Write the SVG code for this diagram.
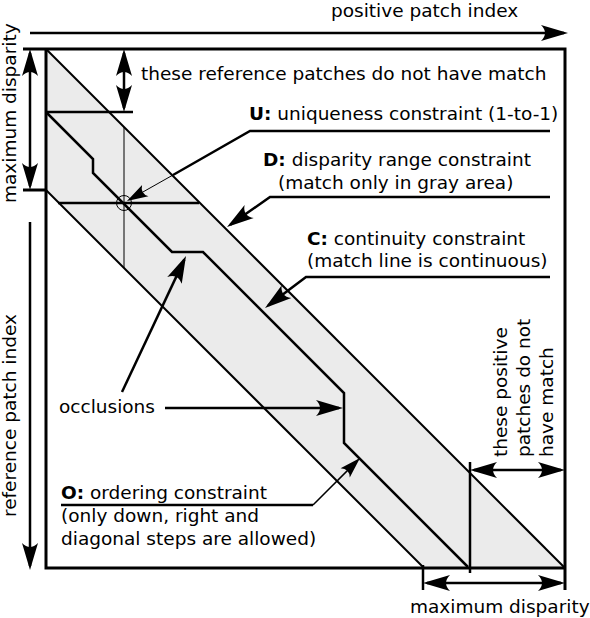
<svg xmlns="http://www.w3.org/2000/svg" width="590" height="618" viewBox="0 0 590 618">
<style>
text{font-family:"DejaVu Sans","Liberation Sans",sans-serif;font-size:18.5px;fill:#000}
.b{font-weight:bold}
.ln{fill:none;stroke:#000;stroke-width:2.5}
.edge{fill:none;stroke:#000;stroke-width:2}
.thin{fill:none;stroke:#000;stroke-width:1}
.box{fill:none;stroke:#000;stroke-width:3}
</style>
<defs>
<marker id="ah" markerUnits="userSpaceOnUse" markerWidth="32" markerHeight="20" viewBox="-24 -10 32 20" refX="0" refY="0" orient="auto-start-reverse" overflow="visible">
<path d="M4,0 L-23,-8 Q-15,0 -23,8 Z" fill="#000"/>
</marker>
<marker id="as" markerUnits="userSpaceOnUse" markerWidth="26" markerHeight="16" viewBox="-20 -8 26 16" refX="0" refY="0" orient="auto" overflow="visible">
<path d="M3,0 L-18,-6.5 Q-12,0 -18,6.5 Z" fill="#000"/>
</marker>
</defs>

<g id="band">
<polygon points="46,49 565,568 424,568 46,190" fill="#ebebeb" stroke="none"/>
<line class="edge" x1="46" y1="49" x2="565" y2="568"/>
<line class="edge" x1="46" y1="190" x2="424" y2="568"/>
</g>

<g id="frame">
<polyline class="box" points="23,49 565,49 565,590"/>
<polyline class="box" points="46,49 46,568 565,568"/>
</g>

<g id="match-line">
<polyline class="ln" points="46,112 93,159 93,173 172,252 203,252 344,393 344,443 468,567"/>
<line class="ln" x1="58" y1="203" x2="199" y2="203"/>
<line class="thin" x1="124" y1="127" x2="124" y2="268"/>
<circle cx="124" cy="203" r="7.5" fill="none" stroke="#000" stroke-width="1"/>
</g>

<g id="connectors">
<line class="ln" x1="30" y1="33" x2="564" y2="33" marker-end="url(#ah)"/>
<line class="ln" x1="30" y1="53" x2="30" y2="186" marker-start="url(#ah)" marker-end="url(#ah)"/>
<line class="box" x1="23" y1="190" x2="46" y2="190"/>
<line class="ln" x1="30" y1="222" x2="30" y2="566" marker-end="url(#ah)"/>
<line class="ln" x1="124" y1="53" x2="124" y2="108" marker-start="url(#ah)" marker-end="url(#ah)"/>
<line class="ln" x1="46" y1="112" x2="133" y2="112"/>
<line class="ln" x1="474" y1="470" x2="561" y2="470" marker-start="url(#ah)" marker-end="url(#ah)"/>
<line class="ln" x1="470" y1="462" x2="470" y2="573"/>
<line class="ln" x1="427" y1="583" x2="561" y2="583" marker-start="url(#ah)" marker-end="url(#ah)"/>
<line class="ln" x1="423" y1="565" x2="423" y2="590"/>
<polyline class="ln" points="550,131 250,131 173,175"/>
<line class="thin" x1="173" y1="175" x2="129.6" y2="199.5" marker-end="url(#as)"/>
<polyline class="ln" points="550,197 270,197 230.3,224.7" marker-end="url(#ah)"/>
<polyline class="ln" points="550,277 306,277 268.2,305.6" marker-end="url(#ah)"/>
<line class="ln" x1="122" y1="392" x2="184.3" y2="259.6" marker-end="url(#ah)"/>
<line class="ln" x1="165" y1="408" x2="339" y2="408" marker-end="url(#ah)"/>
<polyline class="ln" points="61,505 313,505"/>
<line fill="none" stroke="#000" stroke-width="1.5" x1="313" y1="505" x2="357.9" y2="460.1" marker-end="url(#as)"/>
</g>

<g id="labels">
<text x="331" y="17">positive patch index</text>
<text x="141" y="80">these reference patches do not have match</text>
<text x="249" y="120"><tspan class="b">U:</tspan> uniqueness constraint (1-to-1)</text>
<text x="263" y="166"><tspan class="b">D:</tspan> disparity range constraint</text>
<text x="278" y="189">(match only in gray area)</text>
<text x="307" y="245"><tspan class="b">C:</tspan> continuity constraint</text>
<text x="307" y="267">(match line is continuous)</text>
<text x="59" y="413">occlusions</text>
<text x="61" y="499"><tspan class="b">O:</tspan> ordering constraint</text>
<text x="61" y="522">(only down, right and</text>
<text x="61" y="545">diagonal steps are allowed)</text>
<text x="410" y="613">maximum disparity</text>
<text transform="translate(15.5,203) rotate(-90)">maximum disparity</text>
<text transform="translate(15.5,517) rotate(-90)">reference patch index</text>
<text transform="translate(507,457) rotate(-90)">these positive</text>
<text transform="translate(530,457) rotate(-90)">patches do not</text>
<text transform="translate(553,457) rotate(-90)">have match</text>
</g>
</svg>
